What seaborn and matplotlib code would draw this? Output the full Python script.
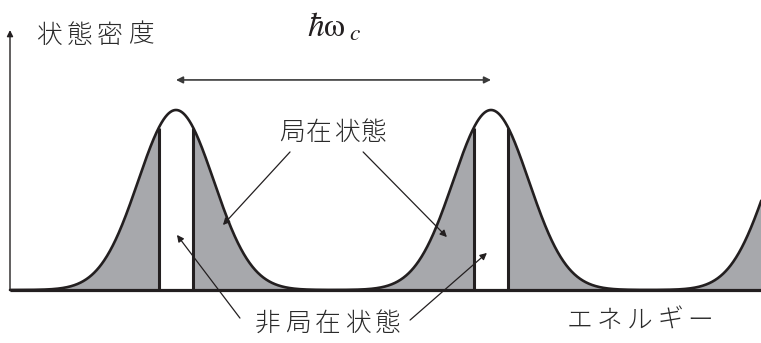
import numpy as np
import pandas as pd
import matplotlib
matplotlib.use("Agg")
import matplotlib.pyplot as plt
import matplotlib.transforms as mtransforms
import seaborn as sns

# Landau levels: centres in units of ħω_c, Gaussian broadening, peak height,
# and half-width of the extended (non-localized) window at each level centre
level_centers = [0.527, 1.527, 2.527]
level_width = 0.12
level_height = 1.0
extended_half_width = 0.055

dos_axis_label = "状態密度"
energy_axis_label = "エネルギー"
localized_label = "局在状態"
extended_label = "非局在状態"
spacing_label = r"$\hbar\mathrm{\omega}_{\;c}$"

sns.set_theme(style="white")
plt.rcParams["font.family"] = ["Noto Sans CJK JP", "DejaVu Sans"]
plt.rcParams["mathtext.fontset"] = "stix"

ink = "#231f20"
text_ink = "#2a2a2a"
gray = "#a7a8ac"


def density(e):
    return sum(level_height * np.exp(-(e - c) ** 2 / (2 * level_width ** 2))
               for c in level_centers)


energy = np.linspace(0.0, 2.40, 2400)
dos = density(energy)
df = pd.DataFrame({"energy": energy, "dos": dos})

fig = plt.figure(figsize=(7.61, 3.43), dpi=100)
ax = fig.add_axes([0, 0, 1, 1])
ax.set_xlim(-10 / 315, 751 / 315)
ax.set_ylim(-53 / 180, 290 / 180)


def spaced_label(x, y, s, pitch=29, size=18.5):
    """Write a label centred at (x, y) with generous, even character spacing."""
    n = len(s)
    for i, ch in enumerate(s):
        tr = mtransforms.offset_copy(ax.transData, fig=fig,
                                     x=(i - (n - 1) / 2) * pitch, y=0,
                                     units="dots")
        ax.text(x, y, ch, transform=tr, fontsize=size, color=text_ink,
                fontweight="light", ha="center", va="center")


# localized states: grey fill under the whole density of states
ax.fill_between(energy, 0, dos, color=gray, lw=0, zorder=1)

# extended states: white window at each level centre, bounded by vertical edges
for c in level_centers:
    inside = np.abs(energy - c) <= extended_half_width
    ax.fill_between(energy[inside], 0, dos[inside], color="white", lw=0, zorder=2)
    for edge in (c - extended_half_width, c + extended_half_width):
        if edge < energy[-1]:
            ax.plot([edge, edge], [0, density(edge)], color=ink, lw=2.2,
                    solid_capstyle="butt", zorder=3)

sns.lineplot(data=df, x="energy", y="dos", ax=ax, color=ink, lw=1.9,
             estimator=None, sort=False, legend=False, zorder=4)
ax.set_xlabel("")
ax.set_ylabel("")
ax.axis("off")

# energy axis (baseline) and density-of-states axis with arrow
ax.plot([0, 751 / 315], [0, 0], color=ink, lw=2.3, solid_capstyle="butt", zorder=5)
ax.annotate("", xy=(0, 1.444), xytext=(0, 0),
            arrowprops=dict(arrowstyle="-|>", color=ink, lw=1.0,
                            mutation_scale=9, shrinkA=0, shrinkB=0), zorder=5)

spaced_label(0.269, 1.415, dos_axis_label, pitch=30.5)
spaced_label(2.0, -0.170, energy_axis_label, pitch=30)

# Landau level spacing
ax.annotate("", xy=(level_centers[1], 1.167), xytext=(level_centers[0], 1.167),
            arrowprops=dict(arrowstyle="<|-|>", color="#3a3a3a", lw=1.2,
                            mutation_scale=10, shrinkA=0, shrinkB=0))
ax.text(1.03, 1.46, spacing_label, fontsize=24, color=ink,
        ha="center", va="center")

# localized-state labels and pointers
spaced_label(1.025, 0.872, localized_label, pitch=27.5)
arrow_kw = dict(arrowstyle="-|>", color=ink, lw=0.9, mutation_scale=10,
                shrinkA=0, shrinkB=0)
ax.annotate("", xy=(0.676, 0.361), xytext=(0.889, 0.767), arrowprops=arrow_kw)
ax.annotate("", xy=(1.387, 0.294), xytext=(1.121, 0.767), arrowprops=arrow_kw)

# extended-state labels and pointers
spaced_label(1.008, -0.189, extended_label, pitch=30)
ax.annotate("", xy=(0.530, 0.306), xytext=(0.730, -0.156), arrowprops=arrow_kw)
ax.annotate("", xy=(1.514, 0.206), xytext=(1.270, -0.167), arrowprops=arrow_kw)

fig.savefig("out.png", dpi=100)
